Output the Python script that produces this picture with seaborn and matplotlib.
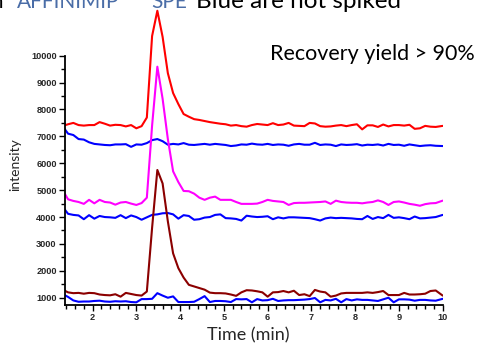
import numpy as np
import pandas as pd
import matplotlib
matplotlib.use("Agg")
import matplotlib.pyplot as plt
from matplotlib.ticker import MultipleLocator, FixedLocator
import seaborn as sns

# ---------------- data ----------------
time_min = [1.36, 1.44, 1.56, 1.68, 1.80, 1.92, 2.04, 2.16, 2.28, 2.40,
            2.52, 2.64, 2.76, 2.88, 3.00, 3.12, 3.24, 3.36, 3.48, 3.60,
            3.72, 3.84, 3.96, 4.08, 4.20, 4.32, 4.44, 4.56, 4.68, 4.80,
            4.92, 5.04, 5.16, 5.28, 5.40, 5.52, 5.64, 5.76, 5.88, 6.00,
            6.12, 6.24, 6.36, 6.48, 6.60, 6.72, 6.84, 6.96, 7.08, 7.20,
            7.32, 7.44, 7.56, 7.68, 7.80, 7.92, 8.04, 8.16, 8.28, 8.40,
            8.52, 8.64, 8.76, 8.88, 9.00, 9.12, 9.24, 9.36, 9.48, 9.60,
            9.72, 9.84, 10.00]

red_spiked = [7410, 7450, 7500, 7420, 7400, 7420, 7420, 7530, 7470, 7400,
              7430, 7420, 7370, 7420, 7300, 7380, 7700, 10730, 11670, 10700,
              9350, 8610, 8200, 7830, 7730, 7640, 7610, 7570, 7530, 7500,
              7470, 7450, 7400, 7420, 7380, 7360, 7420, 7460, 7440, 7420,
              7490, 7420, 7440, 7500, 7400, 7390, 7380, 7500, 7480, 7380,
              7360, 7370, 7400, 7420, 7380, 7420, 7450, 7260, 7410, 7410,
              7350, 7440, 7370, 7420, 7420, 7400, 7430, 7280, 7300, 7390,
              7360, 7350, 7390]

blue_top = [7280, 7100, 7050, 6900, 6880, 6780, 6720, 6700, 6680, 6670,
            6700, 6700, 6710, 6610, 6700, 6690, 6750, 6860, 6900, 6820,
            6690, 6720, 6700, 6750, 6690, 6680, 6700, 6720, 6690, 6720,
            6700, 6680, 6640, 6660, 6700, 6690, 6730, 6700, 6690, 6720,
            6680, 6700, 6690, 6650, 6700, 6720, 6690, 6690, 6760, 6680,
            6700, 6690, 6640, 6700, 6680, 6690, 6710, 6660, 6690, 6680,
            6700, 6660, 6720, 6680, 6690, 6650, 6700, 6670, 6640, 6660,
            6670, 6650, 6640]

magenta_spiked = [4880, 4660, 4600, 4560, 4490, 4640, 4510, 4640, 4560, 4540,
                  4460, 4540, 4560, 4500, 4450, 4520, 4720, 7400, 9590, 8400,
                  6900, 5700, 5300, 4970, 4960, 4870, 4720, 4640, 4720, 4760,
                  4640, 4640, 4640, 4560, 4490, 4490, 4490, 4500, 4560, 4640,
                  4600, 4580, 4560, 4450, 4520, 4530, 4530, 4540, 4550, 4560,
                  4580, 4490, 4610, 4560, 4540, 4530, 4530, 4510, 4540, 4560,
                  4620, 4560, 4450, 4560, 4580, 4540, 4490, 4460, 4420, 4480,
                  4510, 4520, 4610]

blue_mid = [4290, 4120, 4080, 4060, 3920, 4070, 3940, 4040, 4000, 3990,
            3970, 4070, 3960, 4060, 4000, 3900, 3990, 4080, 4100, 4140,
            4150, 4100, 3940, 4070, 4040, 3900, 3920, 3980, 4000, 4080,
            4100, 3960, 3950, 3930, 3870, 4050, 4020, 4000, 4010, 4030,
            3920, 3990, 3950, 3990, 3990, 3980, 3970, 3960, 3920, 3870,
            3950, 3980, 3960, 3970, 3960, 3950, 3930, 3920, 4040, 3930,
            4000, 3960, 4080, 3970, 3990, 3960, 3920, 4020, 3950, 3960,
            3980, 4000, 4080]

darkred_spiked = [1265, 1200, 1170, 1180, 1150, 1180, 1170, 1120, 1100, 1090,
                  1130, 1040, 1180, 1140, 1100, 1080, 1230, 3600, 5750, 5250,
                  3840, 2650, 2100, 1750, 1480, 1420, 1360, 1300, 1190, 1170,
                  1170, 1160, 1120, 1070, 1200, 1280, 1270, 1240, 1200, 1040,
                  1200, 1210, 1250, 1200, 1260, 1100, 1130, 1060, 1290, 1230,
                  1200, 1040, 1080, 1160, 1180, 1180, 1180, 1180, 1200, 1180,
                  1210, 1250, 1100, 1100, 1100, 1180, 1120, 1120, 1130, 1150,
                  1250, 1270, 1080]

blue_bottom = [1100, 1030, 900, 850, 860, 860, 880, 890, 860, 850,
               870, 860, 870, 840, 830, 950, 950, 960, 1170, 1080,
               1000, 1050, 840, 840, 840, 850, 950, 1060, 840, 880,
               880, 870, 840, 950, 940, 950, 830, 950, 900, 910,
               960, 880, 900, 910, 910, 920, 930, 950, 990, 830,
               920, 900, 960, 830, 950, 900, 940, 920, 920, 900,
               880, 940, 1000, 830, 940, 940, 930, 890, 920, 920,
               900, 890, 960]

series_names = ["red", "blue_top", "magenta", "blue_mid", "darkred", "blue_bottom"]
series_values = [red_spiked, blue_top, magenta_spiked, blue_mid, darkred_spiked, blue_bottom]
series_colors = ["#FF0000", "#0000FF", "#FF00FF", "#0000FF", "#8B0000", "#0000FF"]

y_ticks = [1000, 2000, 3000, 4000, 5000, 6000, 7000, 8000, 9000, 10000]
x_ticks = [2, 3, 4, 5, 6, 7, 8, 9, 10]

# ---------------- figure ----------------
sns.set_style("white")
plt.rcParams["font.family"] = ["Liberation Sans", "DejaVu Sans"]

fig = plt.figure(figsize=(4.98, 3.44), dpi=100)
W, H = 498, 344
ax = fig.add_axes([65 / W, 1 - 305 / H, (442.7 - 65) / W, 305 / H])
ax.patch.set_alpha(0)

frames = []
for name, vals in zip(series_names, series_values):
    frames.append(pd.DataFrame({"time": time_min, "intensity": vals, "series": name}))
df = pd.concat(frames, ignore_index=True)

sns.lineplot(data=df, x="time", y="intensity", hue="series",
             palette=dict(zip(series_names, series_colors)),
             hue_order=series_names, estimator=None, sort=False,
             linewidth=1.5, legend=False, ax=ax)

ax.set_xlim(1.37, 10.0)
ax.set_ylim(730, 12070)

for s in ["top", "right"]:
    ax.spines[s].set_visible(False)
for s in ["left", "bottom"]:
    ax.spines[s].set_color("black")
    ax.spines[s].set_linewidth(1.3)
ax.spines["left"].set_bounds(730, 10000)

ax.yaxis.set_major_locator(FixedLocator(y_ticks))
ax.yaxis.set_minor_locator(FixedLocator([v + 500 for v in y_ticks[:-1]]))
ax.xaxis.set_major_locator(FixedLocator(x_ticks))
ax.xaxis.set_minor_locator(MultipleLocator(0.2))
ax.set_yticklabels([str(v) for v in y_ticks])
ax.set_xticklabels([str(v) for v in x_ticks])

ax.tick_params(axis="both", which="major", direction="out", length=4.5, width=1.0,
               color="black", labelsize=6.6, pad=1.5, left=True, bottom=True)
ax.tick_params(axis="both", which="minor", direction="out", length=3, width=1.0,
               color="black", left=True, bottom=True)
for lab in ax.get_xticklabels() + ax.get_yticklabels():
    lab.set_fontweight("bold")

lf = ["Lato", "DejaVu Sans"]
ax.set_xlabel("Time (min)", fontsize=13, family=lf)
ax.set_ylabel("intensity", fontsize=10, family=lf)
ax.xaxis.set_label_coords((248 - 65) / 377.7, -30 / 305)
ax.yaxis.set_label_coords((15.5 - 65) / 377.7, 0.46)
ax.xaxis.label.set_va("center")
ax.yaxis.label.set_va("center")

# annotation text
fig.text(270 / W, 1 - 60 / H, "Recovery yield > 90%", fontsize=15.5,
         family=lf, va="baseline", ha="left", color="black")

# partially visible slide title at the top (cut off in the original screenshot)
ty = 1 - 8 / H
fig.text(-12 / W, ty, "in", fontsize=15, family=lf, va="baseline", ha="left", color="black")
fig.text(17 / W, ty, "AFFINIMIP", fontsize=15, family=lf, va="baseline", ha="left", color="#4A6DA7")
fig.text(132 / W, ty + 8 / H, "\u00ae", fontsize=9, family=lf, va="baseline", ha="left", color="#4A6DA7")
fig.text(151 / W, ty, "SPE", fontsize=15, family=lf, va="baseline", ha="left", color="#4A6DA7")
fig.text(196 / W, ty, "Blue are not spiked", fontsize=17.5, family=lf, va="baseline", ha="left", color="black")

fig.savefig("out.png", dpi=100)
